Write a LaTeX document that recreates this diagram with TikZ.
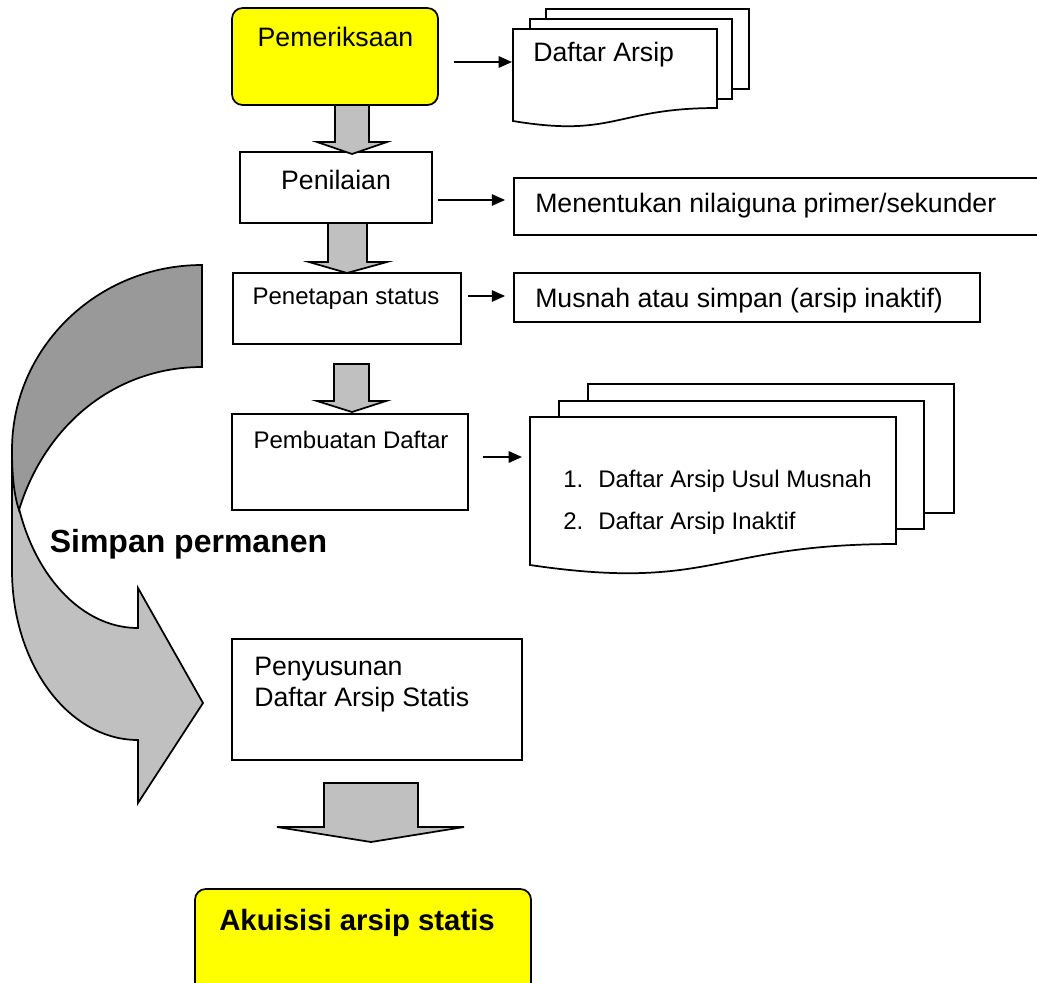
\documentclass[tikz,border=0pt]{standalone}
\usepackage{fontspec}
\setmainfont{Liberation Sans}
\usetikzlibrary{arrows.meta,calc,fit}
\definecolor{ylw}{HTML}{FFFF00}
\definecolor{lgray}{HTML}{C0C0C0}
\definecolor{dgray}{HTML}{999999}
\begin{document}
\begin{tikzpicture}[x=0.75pt,y=-0.75pt,
  boxs/.style={draw=black,line width=1.3pt,fill=white,inner sep=0pt},
  ybox/.style={boxs,fill=ylw,rounded corners=8pt},
  txt/.style={inner sep=0pt,font=\fontsize{20}{24}\selectfont,text height=14.32pt,text depth=0pt},
  txts/.style={inner sep=0pt,font=\fontsize{18}{22}\selectfont,text height=12.89pt,text depth=0pt},
  txtb/.style={inner sep=0pt,font=\fontsize{22}{26}\selectfont\bfseries,text height=15.75pt,text depth=0pt},
  txtB/.style={inner sep=0pt,font=\fontsize{24}{28}\selectfont\bfseries,text height=17.18pt,text depth=0pt},
  arr/.style={line width=1.5pt,-{Triangle[length=10pt,width=8.5pt]}},
  blk/.style={draw=black,line width=1.3pt,fill=lgray,line join=miter},
  page/.style={draw=black,line width=1.3pt,fill=white}
]
\useasboundingbox (0,0) rectangle (1037,982);
\clip (0,0) rectangle (1037,982);

% curved arrow (Simpan permanen)
\draw[line width=1.3pt,fill=lgray] (12,450) -- (12,570)
  .. controls (12,664) and (68.5,740) .. (138,740)
  -- (138,803) -- (203,703) -- (138,588) -- (138,628)
  .. controls (68.5,628) and (12,548) .. (12,450) -- cycle;
\draw[line width=1.3pt,fill=dgray] (202,265)
  .. controls (97,265) and (12,348) .. (12,450)
  .. controls (12,475) and (14,495) .. (19,510)
  .. controls (45,425) and (115,367) .. (202,367) -- cycle;

% main boxes
\node[ybox, fit={(232,8)(438,105)}] (pem) {};
\node[txt] (pemT) at (335.5,37) {Pemeriksaan};
\node[boxs, fit={(240,152)(432,223)}] (pen) {};
\node[txt] (penT) at (336,180) {Penilaian};
\node[boxs, fit={(233,273)(461,344)}] (pst) {};
\node[txts] (pstT) at (346,295.5) {Penetapan status};
\node[boxs, fit={(232,414)(468,510)}] (pbd) {};
\node[txts] (pbdT) at (351,439.5) {Pembuatan Daftar};
\node[boxs, fit={(232,639)(522,760)}] (pny) {};
\node[txt, anchor=west] (pnyT1) at (254,666) {Penyusunan};
\node[txt, anchor=west] (pnyT2) at (254,696.5) {Daftar Arsip Statis};
\node[ybox, fit={(195,889)(531,1010)}] (aku) {};
\node[txtb, anchor=west] (akuT) at (219,920) {Akuisisi arsip statis};

% right boxes
\node[boxs, fit={(514,178)(1050,235)}] (mnt) {};
\node[txt, anchor=west] (mntT) at (535,203) {Menentukan nilaiguna primer/sekunder};
\node[boxs, fit={(514,273)(980,322)}] (mus) {};
\node[txt, anchor=west] (musT) at (535,298) {Musnah atau simpan (arsip inaktif)};

% document stack 1
\draw[page] (546,9) rectangle (749,89);
\draw[page] (530,19) rectangle (732,99);
\draw[page] (513,29) -- (717,29) -- (717,108)
  .. controls (615,108) and (615,138) .. (513,121) -- cycle;
\node[txt, anchor=west] (d1T) at (533,52) {Daftar Arsip};
\coordinate (d1) at (512,62);

% document stack 2
\draw[page] (588,384) rectangle (954,513);
\draw[page] (559,401) rectangle (924,529);
\draw[page] (530,417) -- (896,417) -- (896,544)
  .. controls (713,544) and (713,592) .. (530,565) -- cycle;
\node[txts, anchor=west] (l1n) at (563,478.5) {1.};
\node[txts, anchor=west] (l1) at (598,478.5) {Daftar Arsip Usul Musnah};
\node[txts, anchor=west] (l2n) at (563,521) {2.};
\node[txts, anchor=west] (l2) at (598,521) {Daftar Arsip Inaktif};
\coordinate (d2) at (522,457);

% small arrows
\draw[arr] ($(pem.east)+(15,5.5)$) -- (d1);
\draw[arr] ($(pen.east)+(5,12.5)$) -- ($(mnt.west |- 0,200)+(-8,0)$);
\draw[arr] ($(pst.east)+(6,-12.5)$) -- ($(mus.west |- 0,296)+(-8,0)$);
\draw[arr] ($(pbd.east)+(14,-5)$) -- (d2);

% block arrows
\draw[blk] (335,105) -- (335,142) -- (317,142) -- (352,154) -- (387,142) -- (369,142) -- (369,105) -- cycle;
\draw[blk] (328,223) -- (328,262) -- (309,262) -- (347,273) -- (387,262) -- (367,262) -- (367,223) -- cycle;
\draw[blk] (334,364) -- (334,401) -- (317,401) -- (352,412) -- (386,401) -- (369,401) -- (369,364) -- cycle;
\draw[blk] (324,783) -- (324,827) -- (277,827) -- (371,842) -- (464,827) -- (418,827) -- (418,783) -- cycle;

% label
\node[txtB] (simp) at (188.5,541) {Simpan permanen};
\end{tikzpicture}
\end{document}
